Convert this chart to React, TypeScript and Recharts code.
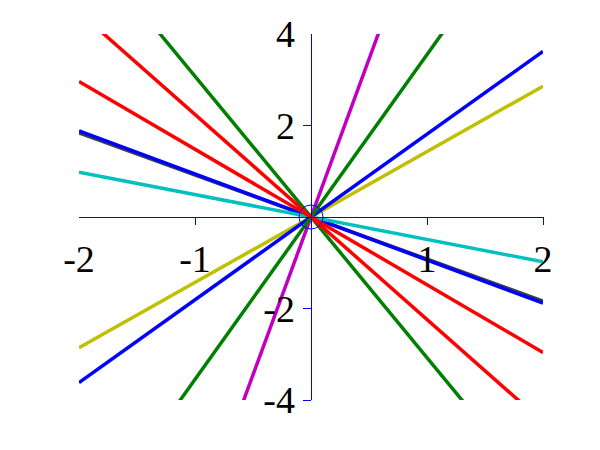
import {
  LineChart,
  Line,
  XAxis,
  YAxis,
  ReferenceLine,
  ReferenceDot,
} from "recharts";

// x positions of the line ends
const xValues = [-2, 2];

// y values at x = -2 and x = 2 for each line
const grayLine = [1.84, -1.84];
const blueFalling = [1.88, -1.88];
const cyanLine = [0.98, -0.98];
const yellowLine = [-2.86, 2.86];
const blueRising = [-3.62, 3.62];
const magentaLine = [-13.8, 13.8];
const greenRising = [-7.1, 7.1];
const greenFalling = [6.15, -6.15];
const redShallow = [2.96, -2.96];
const redSteep = [4.48, -4.48];

const xTicks = [-2, -1, 1, 2];
const yTicks = [4, 2, -2, -4];
const xTickMarks = [-1, 1, 2];
const yTickMarks = [2, -2, -4];

const series = [
  { key: "gray", values: grayLine, color: "#404040" },
  { key: "blueFalling", values: blueFalling, color: "#0000ff" },
  { key: "cyan", values: cyanLine, color: "#00c0c0" },
  { key: "yellow", values: yellowLine, color: "#c0c000" },
  { key: "blueRising", values: blueRising, color: "#0000ff" },
  { key: "magenta", values: magentaLine, color: "#c000c0" },
  { key: "greenRising", values: greenRising, color: "#008000" },
  { key: "greenFalling", values: greenFalling, color: "#008000" },
  { key: "redShallow", values: redShallow, color: "#ff0000" },
  { key: "redSteep", values: redSteep, color: "#ff0000" },
];

const data = xValues.map((x, i) => {
  const row: Record<string, number> = { x };
  series.forEach((s) => {
    row[s.key] = s.values[i];
  });
  return row;
});

const labelFont = {
  fontSize: 38,
  fill: "#000",
  fontFamily: "Liberation Serif, serif",
};

export default function App() {
  return (
    <LineChart
      width={592}
      height={442}
      data={data}
      margin={{ top: 26, left: 71, right: 57, bottom: 50 }}
    >
      <XAxis
        dataKey="x"
        type="number"
        domain={[-2, 2]}
        allowDataOverflow
        hide
      />
      <YAxis type="number" domain={[-4, 4]} allowDataOverflow hide />
      {series.map((s) => (
        <Line
          key={s.key}
          dataKey={s.key}
          type="linear"
          stroke={s.color}
          strokeWidth={3.5}
          dot={false}
          isAnimationActive={false}
        />
      ))}
      <ReferenceLine y={0} stroke="#0000ff" strokeWidth={1} shapeRendering="crispEdges" />
      <ReferenceLine x={0} stroke="#0000ff" strokeWidth={1} shapeRendering="crispEdges" />
      {xTickMarks.map((t) => (
        <ReferenceLine
          key={"xt" + t}
          segment={[
            { x: t, y: 0 },
            { x: t, y: -0.18 },
          ]}
          stroke="#0000ff"
          shapeRendering="crispEdges"
        />
      ))}
      {yTickMarks.map((t) => (
        <ReferenceLine
          key={"yt" + t}
          segment={[
            { x: 0, y: t },
            { x: -0.07, y: t },
          ]}
          stroke="#0000ff"
          shapeRendering="crispEdges"
        />
      ))}
      <ReferenceDot
        x={0}
        y={0}
        r={12}
        fill="none"
        stroke="#0000ff"
        strokeWidth={1}
      />
      {xTicks.map((t) => (
        <ReferenceDot
          key={"xl" + t}
          x={t}
          y={0}
          r={0}
          fill="none"
          stroke="none"
          label={{ value: String(t), position: "bottom", offset: 28, ...labelFont }}
        />
      ))}
      {yTicks.map((t) => (
        <ReferenceDot
          key={"yl" + t}
          x={0}
          y={t}
          r={0}
          fill="none"
          stroke="none"
          label={{ value: String(t), position: "left", offset: 16, ...labelFont }}
        />
      ))}
    </LineChart>
  );
}
